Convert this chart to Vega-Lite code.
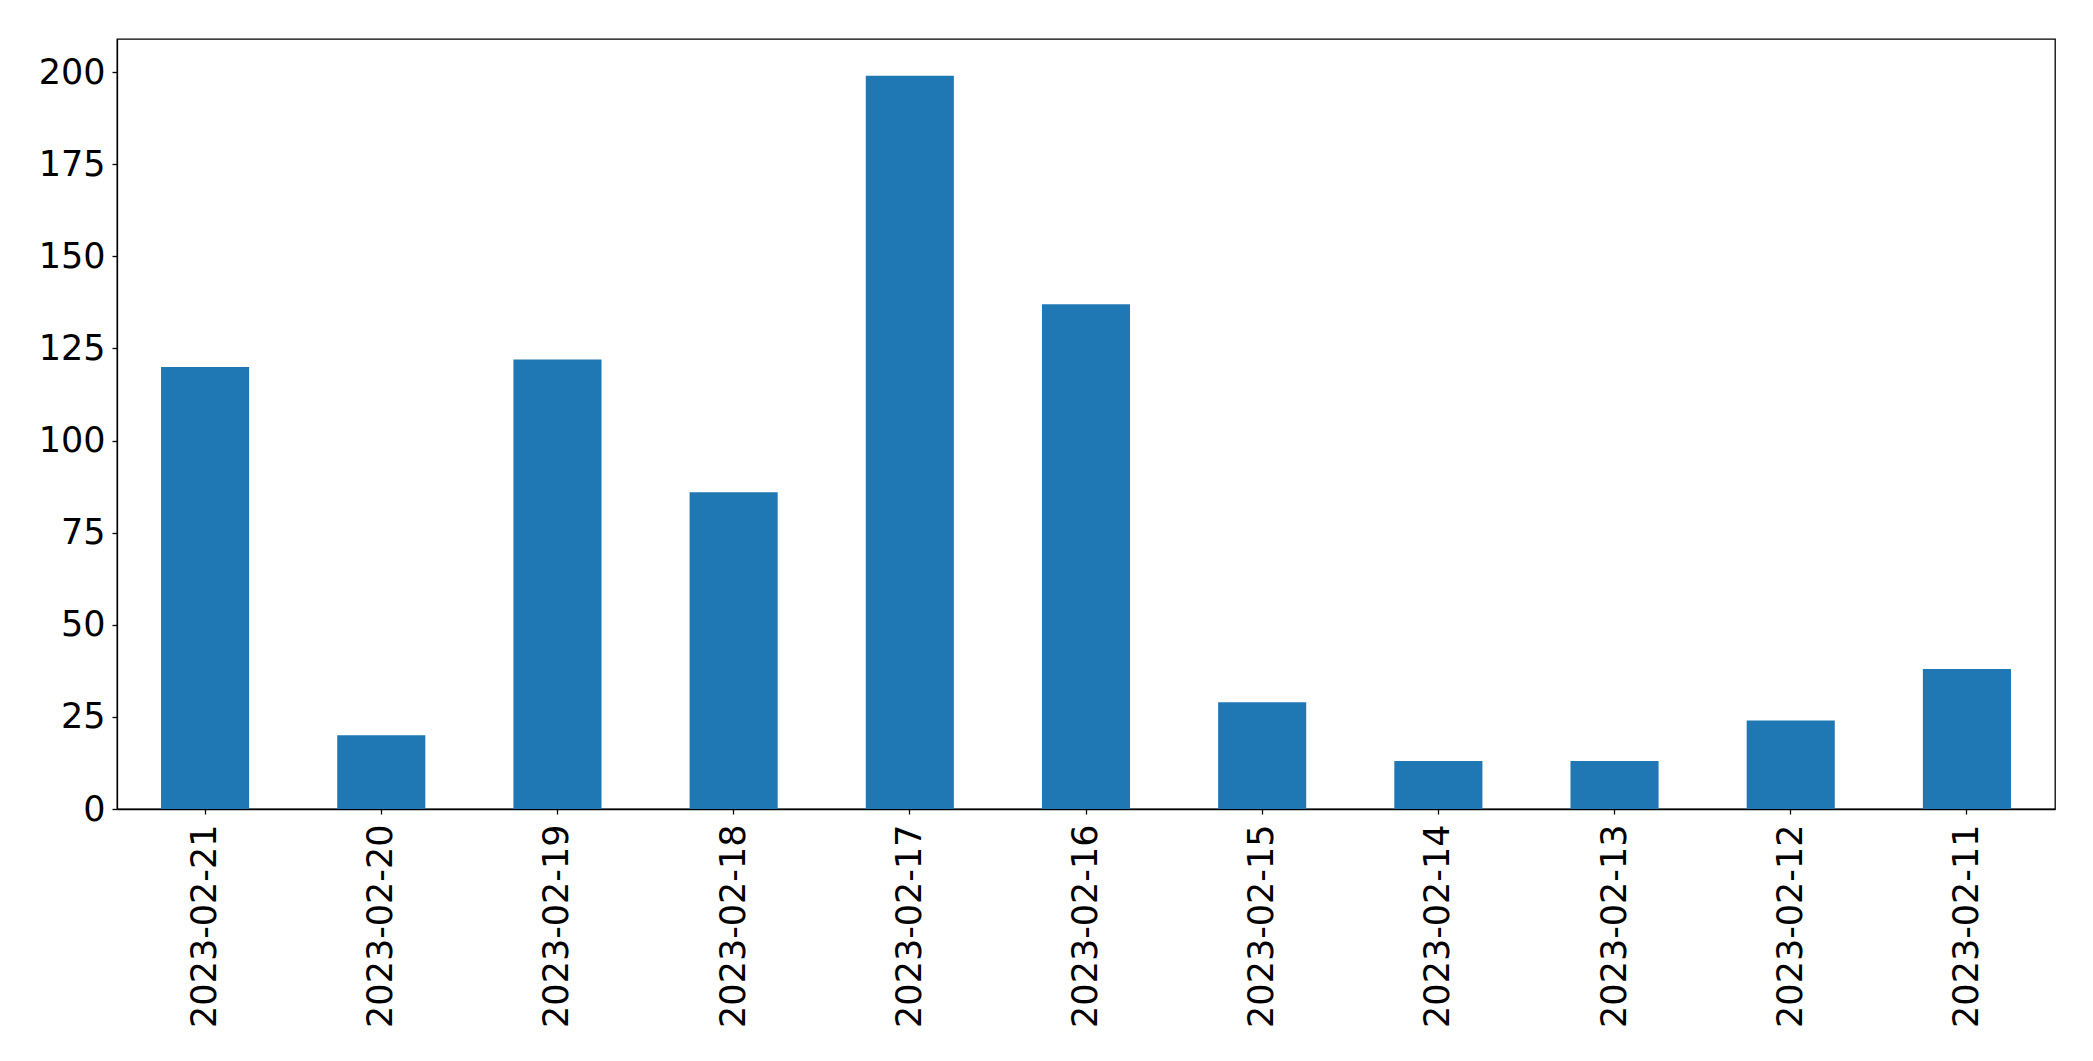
{
  "$schema": "https://vega.github.io/schema/vega-lite/v6.json",
  "width": 1938,
  "height": 770,
  "autosize": {"type": "none"},
  "padding": {"left": 117, "top": 39, "right": 38, "bottom": 252},
  "background": "white",
  "data": {
    "values": [
      {"date": "2023-02-21", "count": 120},
      {"date": "2023-02-20", "count": 20},
      {"date": "2023-02-19", "count": 122},
      {"date": "2023-02-18", "count": 86},
      {"date": "2023-02-17", "count": 199},
      {"date": "2023-02-16", "count": 137},
      {"date": "2023-02-15", "count": 29},
      {"date": "2023-02-14", "count": 13},
      {"date": "2023-02-13", "count": 13},
      {"date": "2023-02-12", "count": 24},
      {"date": "2023-02-11", "count": 38}
    ]
  },
  "mark": {"type": "bar", "color": "#1f77b4"},
  "encoding": {
    "x": {
      "field": "date",
      "type": "nominal",
      "sort": null,
      "scale": {"paddingInner": 0.5, "paddingOuter": 0.25},
      "axis": {
        "title": null,
        "labelAngle": -90,
        "labelFont": "DejaVu Sans",
        "labelFontSize": 35,
        "labelColor": "black",
        "labelPadding": 10,
        "labelLimit": 0,
        "tickSize": 5,
        "tickColor": "black",
        "tickWidth": 1.3,
        "domainColor": "black",
        "domainWidth": 1.3,
        "grid": false
      }
    },
    "y": {
      "field": "count",
      "type": "quantitative",
      "scale": {"domain": [0, 209], "nice": false, "zero": true},
      "axis": {
        "title": null,
        "values": [0, 25, 50, 75, 100, 125, 150, 175, 200],
        "labelFont": "DejaVu Sans",
        "labelFontSize": 35,
        "labelColor": "black",
        "labelPadding": 7,
        "tickSize": 5,
        "tickColor": "black",
        "tickWidth": 1.3,
        "domainColor": "black",
        "domainWidth": 1.3,
        "grid": false
      }
    }
  },
  "config": {
    "view": {"stroke": "black", "strokeWidth": 1.3}
  }
}
